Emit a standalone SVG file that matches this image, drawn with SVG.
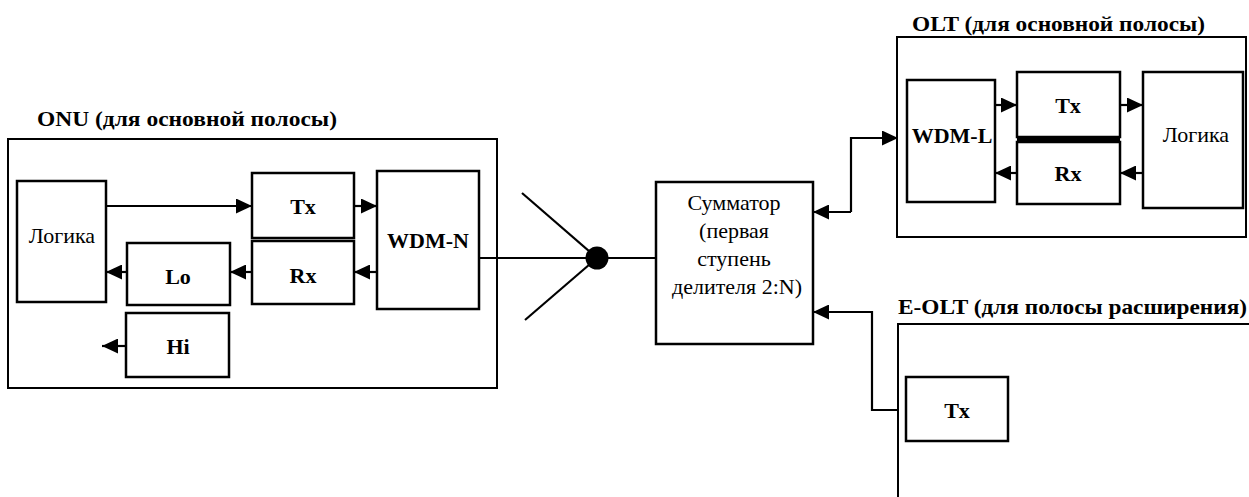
<svg xmlns="http://www.w3.org/2000/svg" width="1249" height="497" viewBox="0 0 1249 497">
<defs>
<style>
.box{fill:none;stroke:#000;stroke-width:2.5}
.frame{fill:none;stroke:#000;stroke-width:2}
.ln{fill:none;stroke:#000;stroke-width:2.2}
text{font-family:"Liberation Serif","DejaVu Serif","Noto Serif",serif;fill:#000}
.b{font-weight:bold;font-size:22px;text-anchor:middle}
.r{font-size:22px;text-anchor:middle}
.t{font-weight:bold;font-size:22px}
</style>
<marker id="ah" viewBox="0 0 16 15" refX="16" refY="7.5" markerWidth="16" markerHeight="15" markerUnits="userSpaceOnUse" orient="auto">
<path d="M0,0 L16,7.5 L0,15 Z" fill="#000"/>
</marker>
</defs>

<g id="onu">
<text class="t" x="37" y="126" textLength="300" lengthAdjust="spacingAndGlyphs">ONU (для основной полосы)</text>
<rect class="frame" x="8" y="139" width="489" height="249"/>
</g>
<g id="onu-logic"><rect class="box" x="17" y="181" width="89" height="121"/><text class="r" x="62" y="243">Логика</text></g>
<g id="onu-tx"><rect class="box" x="252" y="173" width="102" height="65"/><text class="b" x="303" y="214">Tx</text></g>
<g id="onu-rx"><rect class="box" x="252" y="241" width="102" height="63"/><text class="b" x="303" y="283">Rx</text></g>
<g id="onu-wdm"><rect class="box" x="377" y="171" width="102" height="138"/><text class="b" x="428" y="248">WDM-N</text></g>
<g id="onu-lo"><rect class="box" x="127" y="243" width="103" height="62"/><text class="b" x="178" y="284">Lo</text></g>
<g id="onu-hi"><rect class="box" x="126" y="313" width="103" height="64"/><text class="b" x="178" y="354">Hi</text></g>

<g id="splitter">
<circle cx="597" cy="258" r="11.5" fill="#000"/>
<line class="ln" x1="522" y1="193" x2="597" y2="258"/>
<line class="ln" x1="525" y1="320" x2="597" y2="258"/>
</g>

<g id="combiner">
<rect class="box" x="656" y="182" width="157" height="162"/>
<text class="r" x="734" y="210">Сумматор</text>
<text class="r" x="734" y="238">(первая</text>
<text class="r" x="734" y="266">ступень</text>
<text class="r" x="737" y="294">делителя 2:N)</text>
</g>

<g id="olt">
<text class="t" x="912" y="31" textLength="293" lengthAdjust="spacingAndGlyphs">OLT (для основной полосы)</text>
<rect class="frame" x="897" y="37" width="349" height="200"/>
</g>
<g id="olt-wdm"><rect class="box" x="907" y="80" width="88" height="122"/><text class="b" x="952" y="143">WDM-L</text></g>
<g id="olt-tx"><rect class="box" x="1017" y="72" width="103" height="65"/><text class="b" x="1068" y="113">Tx</text></g>
<g id="olt-rx"><rect class="box" x="1017" y="142" width="103" height="62"/><text class="b" x="1068" y="181">Rx</text></g>
<rect x="1017" y="136" width="103" height="7" fill="#000"/>
<g id="olt-logic"><rect class="box" x="1143" y="72" width="100" height="136"/><text class="r" x="1196" y="142">Логика</text></g>

<g id="eolt">
<text class="t" x="898" y="314" textLength="349" lengthAdjust="spacingAndGlyphs">E-OLT (для полосы расширения)</text>
<path class="frame" d="M1249,324 H898 V497"/>
</g>
<g id="eolt-tx"><rect class="box" x="906" y="377" width="102" height="64"/><text class="b" x="957" y="418">Tx</text></g>

<g id="connectors">
<line class="ln" x1="106" y1="206" x2="252" y2="206" marker-end="url(#ah)"/>
<line class="ln" x1="354" y1="206" x2="377" y2="206" marker-end="url(#ah)"/>
<line class="ln" x1="377" y1="272" x2="354" y2="272" marker-end="url(#ah)"/>
<line class="ln" x1="252" y1="272" x2="230" y2="272" marker-end="url(#ah)"/>
<line class="ln" x1="127" y1="272" x2="106" y2="272" marker-end="url(#ah)"/>
<line class="ln" x1="126" y1="346" x2="102" y2="346" marker-end="url(#ah)"/>
<line class="ln" x1="479" y1="258" x2="656" y2="258"/>
<path class="ln" d="M851,212 V138 H898" marker-end="url(#ah)"/>
<line class="ln" x1="851" y1="212" x2="813" y2="212" marker-end="url(#ah)"/>
<line class="ln" x1="995" y1="105" x2="1017" y2="105" marker-end="url(#ah)"/>
<line class="ln" x1="1120" y1="105" x2="1143" y2="105" marker-end="url(#ah)"/>
<line class="ln" x1="1143" y1="173" x2="1120" y2="173" marker-end="url(#ah)"/>
<line class="ln" x1="1017" y1="173" x2="995" y2="173" marker-end="url(#ah)"/>
<path class="ln" d="M898,410 H872 V312 H813" stroke-width="3" marker-end="url(#ah)"/>
</g>
</svg>
